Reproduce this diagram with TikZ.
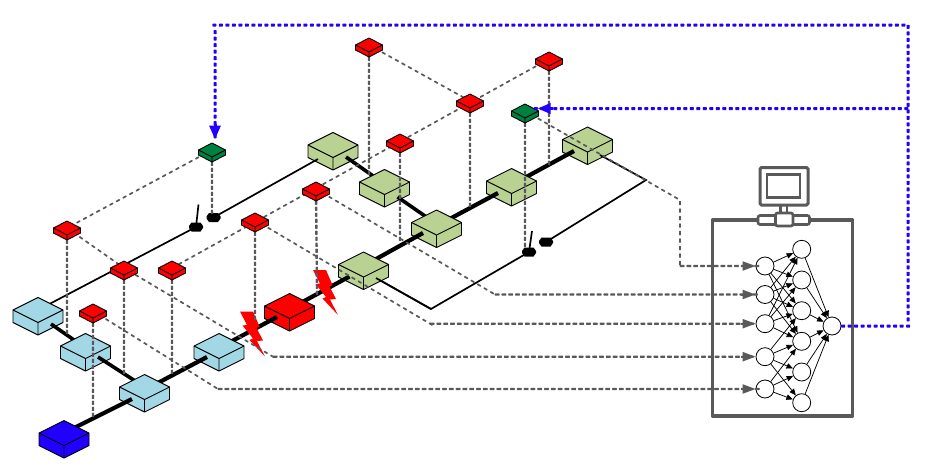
\documentclass[tikz,border=0pt]{standalone}
\usetikzlibrary{arrows.meta,calc,decorations.markings}
\definecolor{lblue}{HTML}{A2D8E6}
\definecolor{lgreen}{HTML}{B9D291}
\definecolor{dgreen}{HTML}{008040}
\definecolor{sblue}{HTML}{2200FF}
\definecolor{dgray}{HTML}{595959}
\newcommand{\isobox}[7]{%
  \node[inner sep=0pt,minimum size=0pt,outer sep=0pt] (#1) at (#2,#3) {};
  \begin{scope}[shift={(#2,#3)},line width=0.9pt,line join=round]
    \filldraw[fill=#7] (-#4,0) -- (0,-#5) -- (#4,0) -- (#4,#6) -- (0,#5+#6) -- (-#4,#6) -- cycle;
    \draw (-#4,0) -- (0,#5) -- (#4,0) (0,#5) -- (0,#5+#6);
  \end{scope}}
\newcommand{\bigbox}[4]{\isobox{#1}{#2}{#3}{25}{12.5}{12.5}{#4}}
\newcommand{\smallbox}[4]{\isobox{#1}{#2}{#3}{13.5}{7}{5}{#4}}
\newcommand{\hexnode}[3]{%
  \node[inner sep=0pt,minimum size=0pt] (#1) at (#2,#3) {};
  \fill[black,shift={(#2,#3)}] (-7,-1) -- (-4.5,-4.5) -- (4.5,-4.5) -- (7,-1) -- (7,1) -- (4.5,4.5) -- (-4.5,4.5) -- (-7,1) -- cycle;}
\newcommand{\bolt}[2]{%
  \fill[red,shift={(#1,#2)}] (0,0) -- (13,0) -- (19.5,15) -- (16.5,16.5) -- (23,29) -- (17,29.5) -- (25,45) -- (9.5,28.5) -- (13,27) -- (2.5,14) -- (7,13.5) -- cycle;}
\tikzset{
  softdash/.style n args={4}{decoration={markings,mark=between positions 0 and 1 step #3 with {\fill[#4] (0pt,-#1) -- (#2,-#1) -- ($(#2,0pt)+(0.4pt,0pt)$) -- (#2,#1) -- (0pt,#1) -- ($(0pt,0pt)+(-0.4pt,0pt)$) -- cycle;}},postaction={decorate}},
  thinlink/.style={line width=1.7pt,black},
  thicklink/.style={line width=3.6pt,black},
  fatlink/.style={line width=4.2pt,black},
  slope/.style={softdash={0.85pt}{3.6pt}{7.5pt}{dgray}},
  drop/.style={softdash={1.2pt}{3.6pt}{6pt}{dgray}},
  feedrun/.style={softdash={1.15pt}{4.2pt}{6.8pt}{dgray}},
  feedtip/.style={dgray,line width=2pt,-{Triangle[length=13pt,width=9pt,sep=0pt]}},
  ctrl/.style={softdash={1.5pt}{3.4pt}{6.5pt}{sblue}},
  neuron/.style={circle,draw=black,fill=white,line width=0.8pt,minimum size=18pt,inner sep=0pt},
  syn/.style={black,line width=0.75pt,-{Triangle[length=6.5pt,width=5.5pt]}},
}
\begin{document}
\begin{tikzpicture}[x=1pt,y=-1pt]
\useasboundingbox (0,0) rectangle (930,471);
% switch hexes
\hexnode{sa}{196}{227}
\hexnode{sb}{213.5}{217.5}
\hexnode{sc}{529}{252}
\hexnode{sd}{546}{242}
\coordinate (ta) at (198.5,204.5);
\coordinate (tc) at (532,231);
\draw[line width=1.7pt] (sa) -- (ta);
\draw[line width=1.7pt] (sc) -- (tc);
\coordinate (e1) at (431,309);
\coordinate (e2) at (646,180);
% green upper chain
\draw[thinlink] (38,310) -- (sa);
\bigbox{G1}{333}{145}{lgreen}
\draw[thinlink] (sb) -- ($(G1)+(-15,14)$);
\draw[thicklink] ($(G1)+(13,12)$) -- (384.5,184);
\bigbox{G2}{384.5}{182}{lgreen}
\draw[thicklink] ($(G2)+(13,15)$) -- (436.5,224);
\bigbox{G5}{587.5}{139.5}{lgreen}
\draw[fatlink] (511.5,185) -- ($(G5)+(-13.5,11.5)$);
\bigbox{G4}{511.5}{181}{lgreen}
\draw[fatlink] (436.5,226) -- ($(G4)+(-13.5,12)$);
\bigbox{G3}{436.5}{222.5}{lgreen}
\draw[fatlink] ($(G3)+(-13.5,10.5)$) -- (363.5,266);
\draw[thinlink] (sd) -- (e2) -- ($(G5)+(12.5,15.5)$);
\draw[thinlink] (sc) -- (e1) -- (376,278);
\bigbox{G6}{363.5}{264.5}{lgreen}
\draw[thinlink] (e1) -- ($(G6)+(12.5,13.5)$);
% blue and red chain
\bigbox{B1}{38}{310}{lblue}
\draw[thicklink] ($(B1)+(13,14)$) -- (85.5,348);
\bigbox{B2}{85.5}{346}{lblue}
\draw[thicklink] ($(B2)+(12.5,11)$) -- (144.5,387);
\draw[fatlink] (289.5,309) -- ($(G6)+(-14,12)$);
\bigbox{RB}{289.5}{306}{red}
\draw[fatlink] (219,348) -- ($(RB)+(-12.5,11)$);
\bigbox{B4}{219}{346}{lblue}
\draw[fatlink] (144.5,390) -- ($(B4)+(-12,11)$);
\bigbox{B3}{144.5}{387}{lblue}
\draw[fatlink] ($(B3)+(-12.5,12)$) -- (64,433);
\bigbox{B0}{64}{433}{sblue}
\bolt{240}{311.5}
\bolt{313}{270}
% neural network
\draw[dgray,line width=3.6pt,line join=round] (712.5,220) rectangle (852.5,416);
\draw[dgray,line width=2.4pt,fill=white] (780.5,204) rectangle (787,216);
\draw[dgray,line width=3pt,rounded corners=1.5pt,fill=white] (760,167.5) rectangle (808,205);
\draw[dgray,line width=2.2pt] (767,174.5) rectangle (800,197.5);
\draw[dgray,line width=2.6pt,rounded corners=2pt,fill=white] (758,215.5) rectangle (809.5,224.5);
\draw[dgray,line width=2.6pt,rounded corners=2pt,fill=white] (775.5,213) rectangle (793,226);
\foreach \n/\y in {1/266,2/294.5,3/323.7,4/356.7,5/389} \node[neuron] (I\n) at (765,\y) {};
\foreach \n/\y in {1/249.3,2/280,3/310.7,4/341.3,5/372,6/402.7} \node[neuron] (H\n) at (801.7,\y) {};
\node[neuron] (Out) at (832,326) {};
\foreach \a/\b in {1/1,1/2,1/3,1/4,2/1,2/2,2/3,2/4,3/1,3/2,3/3,3/4,4/3,4/4,4/5,4/6,5/4,5/5,5/6}
  \draw[syn] (I\a) -- (H\b);
\foreach \b in {1,...,6} \draw[syn] (H\b) -- (Out);
% sensor positions
\coordinate (da) at (67,335);
\coordinate (db) at (124,372);
\coordinate (dc) at (172,372);
\coordinate (dd) at (93,413);
\coordinate (de) at (255,320);
\coordinate (df) at (317,291);
\coordinate (dg) at (400,241.5);
\coordinate (dh) at (369,173);
\coordinate (di) at (470,203);
\coordinate (dj) at (549,162);
\coordinate (dw) at (212,213);
\coordinate (dx) at (525,248);
\path (67,228) coordinate (pa) (124,268) coordinate (pb) (172,268) coordinate (pc) (93,311) coordinate (pd)
 (255,220) coordinate (pe) (316,189) coordinate (pf) (400,141) coordinate (pg) (369,45) coordinate (ph)
 (470,101) coordinate (pi) (549,59) coordinate (pj) (212,150) coordinate (pw) (525,111) coordinate (px);
% bends
\coordinate (k1) at (680,200);
\coordinate (k2) at (680,266);
\coordinate (k3) at (495,294.5);
\coordinate (k4) at (430,323.7);
\coordinate (k5) at (273,356.7);
\coordinate (k6) at (218,389);
% dashed sensor wiring
\path[slope] (pw) -- (pa) -- (pb) -- (k5);
\path[slope] (pd) -- (k6);
\path[slope] (pc) -- (pj);
\path[slope] (pf) -- (k3);
\path[slope] (pe) -- (k4);
\path[slope] (ph) -- (pi);
\path[slope] (px) -- (k1) -- (k2);
\foreach \s in {a,b,c,d,e,f,g,h,i,j,w,x} \path[drop] (p\s) -- (d\s);
\path[feedrun] (k2) -- (I1);
\path[feedrun] (k3) -- (I2);
\path[feedrun] (k4) -- (I3);
\path[feedrun] (k5) -- (I4);
\path[feedrun] (k6) -- (I5);
\foreach \n in {1,...,5} \draw[feedtip] ($(I\n.west)+(-15,0)$) -- (I\n);
% sensors
\smallbox{Ra}{67}{228}{red}
\smallbox{Rb}{124}{268}{red}
\smallbox{Rc}{172}{268}{red}
\smallbox{Rd}{93}{311}{red}
\smallbox{Re}{255}{220}{red}
\smallbox{Rf}{316}{189}{red}
\smallbox{Rg}{400}{141}{red}
\smallbox{Rh}{369}{45}{red}
\smallbox{Ri}{470}{101}{red}
\smallbox{Rj}{549}{59}{red}
\smallbox{Gw}{212}{150}{dgreen}
\smallbox{Gx}{525}{111}{dgreen}
% control feedback
\coordinate (c1) at (908,326);
\coordinate (c2) at (908,25);
\coordinate (c3) at (215,25);
\coordinate (c4) at (215,139.5);
\coordinate (c5) at (908,108.5);
\coordinate (c6) at (537.5,108.5);
\path[ctrl] (Out) -- (c1) -- (c2) -- (c3) -- (c4);
\path[ctrl] (c5) -- (c6);
\draw[sblue,line width=3pt,-{Triangle[length=14pt,width=11pt,sep=0pt]}] ($(c4)+(0,-16)$) -- (c4);
\draw[sblue,line width=3pt,-{Triangle[length=13pt,width=10pt,sep=0pt]}] ($(c6)+(15,0)$) -- (c6);
\end{tikzpicture}
\end{document}
